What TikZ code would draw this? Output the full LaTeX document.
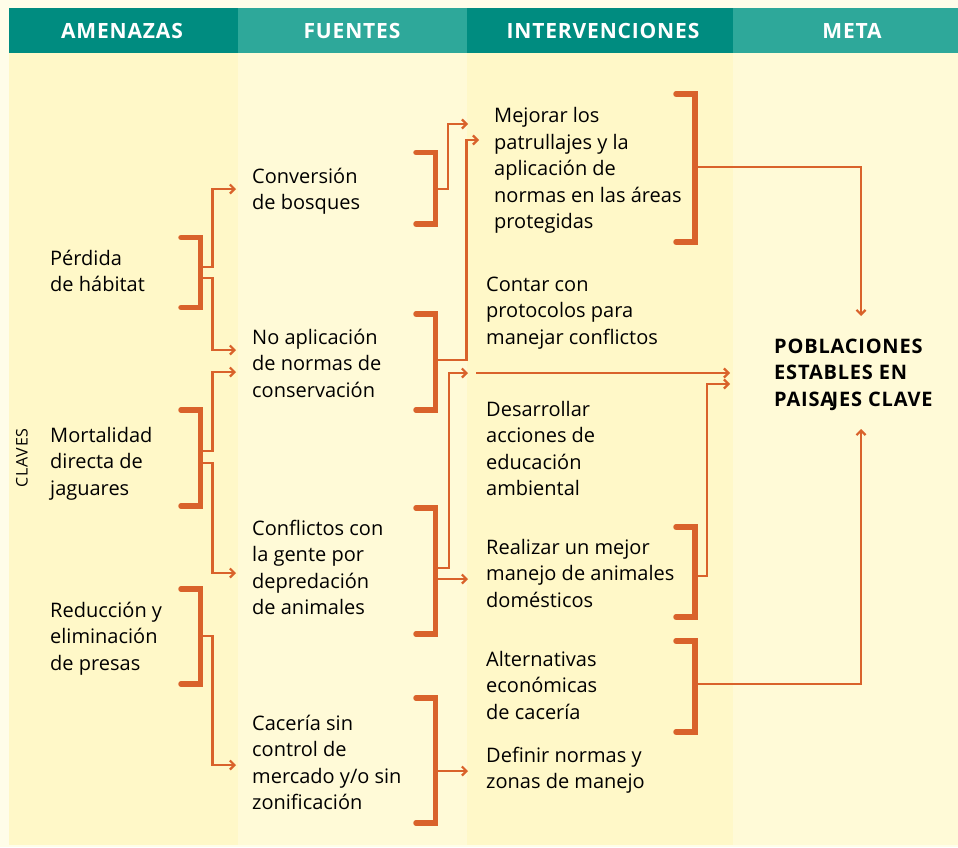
\documentclass[tikz,border=0pt]{standalone}
\usepackage{fontspec}
\setmainfont{Open Sans}
\newfontfamily\cabfont[LetterSpace=4]{Open Sans}
\newfontfamily\metafont[LetterSpace=4]{Open Sans}
\newfontfamily\clavesfont[LetterSpace=5]{Open Sans}
\usetikzlibrary{positioning,arrows.meta}

\definecolor{pagebg}{HTML}{FFFDE9}
\definecolor{colA}{HTML}{FFF8C8}
\definecolor{colB}{HTML}{FFFAD7}
\definecolor{tealdark}{HTML}{008C80}
\definecolor{teallight}{HTML}{2EA89A}
\definecolor{naranja}{HTML}{D9622B}

\tikzstyle{texto}=[anchor=north west, yshift=18.55pt, inner sep=0pt, align=left,
        font=\fontsize{20}{26.5}\selectfont, text=black]
\tikzstyle{meta}=[texto, font=\metafont\fontsize{20}{26.5}\selectfont\bfseries]
\tikzstyle{cabecera}=[anchor=base, inner sep=0pt, text=white,
        font=\cabfont\fontsize{21}{22}\selectfont\bfseries]
\tikzstyle{corchete}=[draw=naranja, line width=5.5pt, line cap=round]
\tikzstyle{flecha}=[draw=naranja, line width=2.2pt, -{Straight Barb[length=4.5pt,width=9pt]}]

\begin{document}
\begin{tikzpicture}[x=1pt, y=-1pt]
        \useasboundingbox (0,0) rectangle (958,847);
        % fondo y columnas
        \fill[pagebg] (0,0) rectangle (958,847);
        \fill[colA] (9,53) rectangle (237.5,845);
        \fill[colB] (237.5,53) rectangle (467,845);
        \fill[colA] (467,53) rectangle (733,845);
        \fill[colB] (733,53) rectangle (958,845);
        \fill[tealdark] (9,8) rectangle (237.5,53);
        \fill[teallight] (237.5,8) rectangle (467,53);
        \fill[tealdark] (467,8) rectangle (733,53);
        \fill[teallight] (733,8) rectangle (958,53);

        \node (hAmen) [cabecera] at (122,38) {AMENAZAS};
        \node (hFuen) [cabecera] at (352,38) {FUENTES};
        \node (hInter) [cabecera] at (603,38) {INTERVENCIONES};
        \node (hMeta) [cabecera] at (852,38) {META};

        \node (claves) [anchor=base, rotate=90, inner sep=0pt,
          font=\clavesfont\fontsize{16}{18}\selectfont] at (27.5,458) {CLAVES};

        % amenazas
        \node (per) [texto] at (50,265) {\strut Pérdida\\de hábitat};
        \node (mor) [texto] at (50,442) {\strut Mortalidad\\directa de\\jaguares};
        \node (red) [texto] at (50,617) {\strut Reducción y\\eliminación\\de presas};

        % fuentes
        \node (conv) [texto] at (252,183) {\strut Conversión\\de bosques};
        \node (noapl) [texto] at (252,344) {\strut No aplicación\\de normas de\\conservación};
        \node (confl) [texto] at (252,535) {\strut Conflictos con\\la gente por\\depredación\\de animales};
        \node (caza) [texto] at (252,730) {\strut Cacería sin\\control de\\mercado y/o sin\\zonificación};

        % intervenciones
        \node (patr) [texto] at (494,122.5) {\strut Mejorar los\\patrullajes y la\\aplicación de\\normas en las áreas\\protegidas};
        \node (prot) [texto] at (486,291) {\strut Contar con\\protocolos para\\manejar conflictos};
        \node (educ) [texto] at (486,416) {\strut Desarrollar\\acciones de\\educación\\ambiental};
        \node (manejo) [texto] at (486,554) {\strut Realizar un mejor\\manejo de animales\\domésticos};
        \node (alt) [texto] at (486,666) {\strut Alternativas\\económicas\\de cacería};
        \node (zonas) [texto] at (486,762) {\strut Definir normas y\\zonas de manejo};

        % meta
        \node (pob) [meta] at (774,353) {\strut POBLACIONES\\ESTABLES EN\\PAISA\kern-2.5pt JES CLAVE};

        % puntos de salida y llegada
        \coordinate (per-a) at (200.5,267);
        \coordinate (per-b) at (200.5,278);
        \coordinate (mor-a) at (200.5,451);
        \coordinate (mor-b) at (200.5,463);
        \coordinate (red-a) at (200.5,636);
        \coordinate (conv-a) at (435.5,189);
        \coordinate (noapl-a) at (435.5,360);
        \coordinate (confl-a) at (435.5,568);
        \coordinate (confl-b) at (435.5,579);
        \coordinate (caza-a) at (435.5,771);
        \coordinate (patr-a) at (695,167);
        \coordinate (manejo-a) at (695,576);
        \coordinate (alt-a) at (695,684);

        \coordinate (conv-in) at (236,189);
        \coordinate (noapl-in1) at (236,350);
        \coordinate (noapl-in2) at (236,372);
        \coordinate (confl-in) at (236,573);
        \coordinate (caza-in) at (236,765);
        \coordinate (patr-in1) at (468,124);
        \coordinate (patr-in2) at (479,140);
        \coordinate (prot-in) at (468,373);
        \coordinate (prot-out) at (476,373);
        \coordinate (manejo-in) at (468,579);
        \coordinate (zonas-in) at (468,771);
        \coordinate (pob-in1) at (730,373);
        \coordinate (pob-in2) at (730,384);
        \coordinate (pob-top) at (861,316);
        \coordinate (pob-bot) at (861,429);

        % conectores
        \draw[flecha] (per-a) -- ++(12,0) |- (conv-in);
        \draw[flecha] (per-b) -- ++(12,0) |- (noapl-in1);
        \draw[flecha] (mor-a) -- ++(12,0) |- (noapl-in2);
        \draw[flecha] (mor-b) -- ++(12,0) |- (confl-in);
        \draw[flecha] (red-a) -- ++(12,0) |- (caza-in);
        \draw[flecha] (conv-a) -- ++(12.5,0) |- (patr-in1);
        \draw[flecha] (noapl-a) -- ++(31,0) |- (patr-in2);
        \draw[flecha] (confl-a) -- ++(13.5,0) |- (prot-in);
        \draw[flecha] (confl-b) -- (manejo-in);
        \draw[flecha] (caza-a) -- (zonas-in);
        \draw[flecha] (prot-out) -- (pob-in1);
        \draw[flecha] (manejo-a) -- ++(12,0) |- (pob-in2);
        \draw[flecha] (patr-a) -| (pob-top);
        \draw[flecha] (alt-a) -| (pob-bot);

        % corchetes
        \draw[corchete] (181,237.5) -| (200.5,307.5) -- (181,307.5);
        \draw[corchete] (181,410) -| (200.5,506) -- (181,506);
        \draw[corchete] (181,589) -| (200.5,684) -- (181,684);
        \draw[corchete] (416,152.5) -| (435.5,224) -- (416,224);
        \draw[corchete] (416,314) -| (435.5,410) -- (416,410);
        \draw[corchete] (416,508) -| (435.5,634) -- (416,634);
        \draw[corchete] (416,698) -| (435.5,823) -- (416,823);
        \draw[corchete] (676,94) -| (695,242) -- (676,242);
        \draw[corchete] (676,527) -| (695,617) -- (676,617);
        \draw[corchete] (676,641) -| (695,732) -- (676,732);
\end{tikzpicture}
\end{document}
